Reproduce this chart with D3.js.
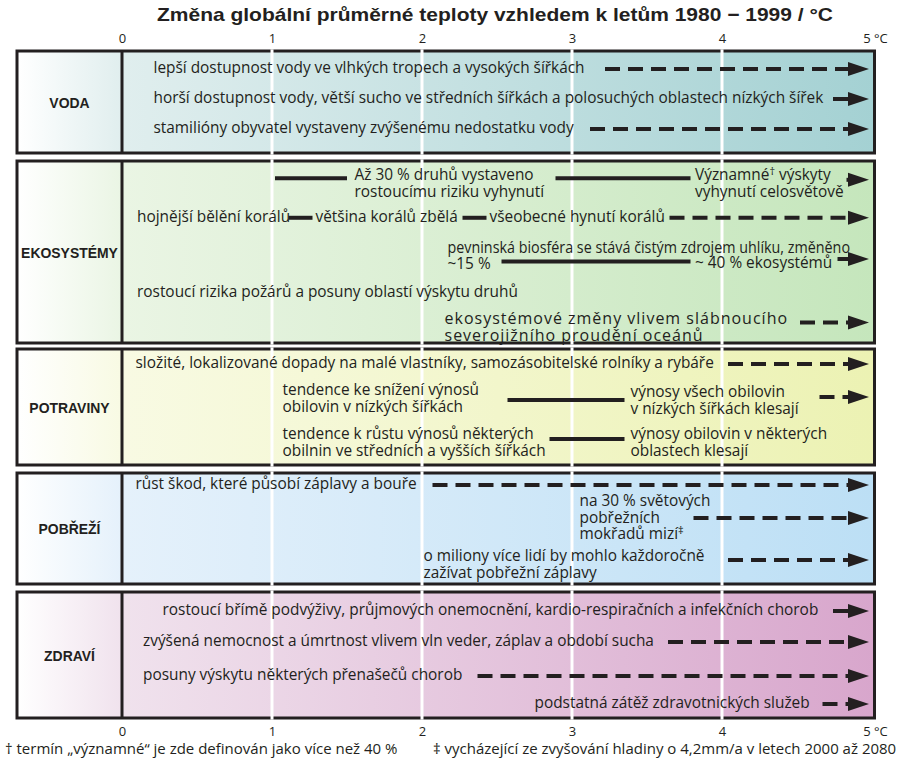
<!DOCTYPE html>
<html><head><meta charset="utf-8">
<script src="https://cdn.jsdelivr.net/npm/d3@7"></script>
<style>body{margin:0;background:#fff}svg{display:block}</style>
</head><body>
<svg id="c" width="898" height="760"></svg>
<script>
// ================= DATA =================
const title = "Změna globální průměrné teploty vzhledem k letům 1980 − 1999 / °C";
const tempTicks = [0, 1, 2, 3, 4, 5];
const tickLabels = ["0", "1", "2", "3", "4", "5 °C"];
const gridTemps = [1, 2, 3, 4];
const sectors = ["VODA", "EKOSYSTÉMY", "POTRAVINY", "POBŘEŽÍ", "ZDRAVÍ"];
const footnotes = [
  "† termín „významné“ je zde definován jako více než 40 %",
  "‡ vycházející ze zvyšování hladiny o 4,2mm/a v letech 2000 až 2080"
];
// impact statements: sector, temperature (°C) where the statement starts, row, text
const impactLabels = [
  {s:0, t:0.21, row:0,    text:"lepší dostupnost vody ve vlhkých tropech a vysokých šířkách"},
  {s:0, t:0.21, row:1,    text:"horší dostupnost vody, větší sucho ve středních šířkách a polosuchých oblastech nízkých šířek"},
  {s:0, t:0.21, row:2,    text:"stamilióny obyvatel vystaveny zvýšenému nedostatku vody"},
  {s:1, t:1.55, row:0,    text:"Až 30 % druhů vystaveno\nrostoucímu riziku vyhynutí"},
  {s:1, t:3.82, row:0,    text:"Významné^† výskyty\nvyhynutí celosvětově"},
  {s:1, t:0.10, row:2.55, text:"hojnější bělění korálů"},
  {s:1, t:1.29, row:2.55, text:"většina korálů zbělá"},
  {s:1, t:2.45, row:2.55, text:"všeobecné hynutí korálů"},
  {s:1, t:2.17, row:4.4,  text:"pevninská biosféra se stává čistým zdrojem uhlíku, změněno\n~15 %"},
  {s:1, t:3.82, row:5.35, text:"~ 40 % ekosystémů"},
  {s:1, t:0.10, row:7.1,  text:"rostoucí rizika požárů a posuny oblastí výskytu druhů"},
  {s:1, t:2.15, row:8.7,  text:"ekosystémové změny vlivem slábnoucího\nseverojižního  proudění oceánů"},
  {s:2, t:0.09, row:0,    text:"složité, lokalizované dopady na malé vlastníky, samozásobitelské rolníky a rybáře"},
  {s:2, t:1.07, row:1.64, text:"tendence ke snížení výnosů\nobilovin v nízkých šířkách"},
  {s:2, t:3.39, row:1.76, text:"výnosy všech obilovin\nv nízkých šířkách klesají"},
  {s:2, t:1.07, row:4.3,  text:"tendence k růstu výnosů některých\nobilnin ve středních a vyšších šířkách"},
  {s:2, t:3.39, row:4.3,  text:"výnosy obilovin v některých\noblastech klesají"},
  {s:3, t:0.09, row:0,    text:"růst škod, které působí záplavy a bouře"},
  {s:3, t:3.05, row:1.03, text:"na 30 % světových\npobřežních\nmokřadů mizí^‡"},
  {s:3, t:2.01, row:4.36, text:"o miliony více lidí by mohlo každoročně\nzažívat pobřežní záplavy"},
  {s:4, t:0.27, row:0,    text:"rostoucí břímě podvýživy, průjmových onemocnění, kardio-respiračních a infekčních chorob"},
  {s:4, t:0.14, row:1,    text:"zvýšená nemocnost a úmrtnost vlivem vln veder, záplav a období sucha"},
  {s:4, t:0.14, row:2.1,  text:"posuny výskytu některých přenašečů chorob"},
  {s:4, t:2.75, row:3,    text:"podstatná zátěž zdravotnických služeb"}
];
// trend lines: sector, row, from °C, to °C, kind, arrow
const trendLines = [
  {s:0, row:0,    from:3.22, to:5,    kind:"dashed", arrow:true},
  {s:0, row:1,    from:4.74, to:5,    kind:"dashed", arrow:true},
  {s:0, row:2,    from:3.12, to:5,    kind:"dashed", arrow:true},
  {s:1, row:0.16, from:1.02, to:1.50, kind:"solid",  arrow:false},
  {s:1, row:0.16, from:2.89, to:3.79, kind:"solid",  arrow:false},
  {s:1, row:0.25, from:4.83, to:5,    kind:"solid",  arrow:true},
  {s:1, row:2.55, from:1.11, to:1.27, kind:"solid",  arrow:false},
  {s:1, row:2.55, from:2.27, to:2.43, kind:"solid",  arrow:false},
  {s:1, row:2.55, from:3.65, to:5,    kind:"dashed", arrow:true},
  {s:1, row:5.2,  from:2.53, to:3.79, kind:"solid",  arrow:false},
  {s:1, row:5.05, from:4.77, to:5,    kind:"solid",  arrow:true},
  {s:1, row:8.9,  from:4.52, to:5,    kind:"dashed", arrow:true},
  {s:2, row:0,    from:4.04, to:5,    kind:"dashed", arrow:true},
  {s:2, row:2.18, from:2.57, to:3.35, kind:"solid",  arrow:false},
  {s:2, row:2.0,  from:4.65, to:5,    kind:"dashed", arrow:true},
  {s:2, row:4.55, from:2.85, to:3.35, kind:"solid",  arrow:false},
  {s:3, row:0,    from:2.07, to:5,    kind:"dashed", arrow:true},
  {s:3, row:2.0,  from:3.81, to:5,    kind:"dashed", arrow:true},
  {s:3, row:4.55, from:4.04, to:5,    kind:"dashed", arrow:true},
  {s:4, row:0,    from:4.74, to:5,    kind:"dashed", arrow:true},
  {s:4, row:1,    from:3.64, to:5,    kind:"dashed", arrow:true},
  {s:4, row:2.1,  from:2.37, to:5,    kind:"dashed", arrow:true},
  {s:4, row:3,    from:4.67, to:5,    kind:"dashed", arrow:true}
];

// ================= LAYOUT / STYLE =================
const ink = "#231f20";
const FONT = "'Open Sans','Noto Sans','DejaVu Sans',sans-serif";
const FS = 15.4, LINE_H = 16.5;
const x = d3.scaleLinear().domain([0, 5]).range([122, 872]);
const panelTop    = [51, 161, 349, 473, 592];
const panelBottom = [153, 343, 465, 584, 718];
const rowPad  = [18, 14.7, 15, 12, 19];
const rowStep = [30, 16.5, 16.5, 16.5, 31];
const panelLeft = 17, panelRight = x(5) + 2.5;
const TEXT_RIGHT_LIMIT = 850;
const palette = [
  ["#ffffff", "#e0eeee", "#a4d1d3"],
  ["#ffffff", "#eaf5e4", "#c5e6bc"],
  ["#ffffff", "#f8fae3", "#ecf2b3"],
  ["#ffffff", "#e5f1fb", "#bcdff5"],
  ["#ffffff", "#f0e2ed", "#d8a6cc"]
];
const rowY = (s, r) => panelTop[s] + rowPad[s] + r * rowStep[s];

const svg = d3.select("#c");
const defs = svg.append("defs");
const divOff = (x(0) - panelLeft) / (panelRight - panelLeft);
palette.forEach((p, i) => {
  const g = defs.append("linearGradient").attr("id", "g" + i).attr("x1", 0).attr("x2", 1).attr("y1", 0).attr("y2", 0);
  g.append("stop").attr("offset", 0).attr("stop-color", p[0]);
  g.append("stop").attr("offset", divOff).attr("stop-color", p[1]);
  g.append("stop").attr("offset", 1).attr("stop-color", p[2]);
});

// title
svg.append("text").attr("x", 495).attr("y", 21).attr("text-anchor", "middle")
  .attr("font-family", "'Liberation Sans',Arial,sans-serif").attr("font-weight", "bold")
  .attr("font-size", 19).attr("fill", ink).attr("textLength", 676).attr("lengthAdjust", "spacingAndGlyphs")
  .text(title);

// axes
function styleAxis(g) {
  g.select(".domain").remove();
  g.selectAll(".tick line").remove();
  g.selectAll("text").attr("font-family", FONT).attr("font-size", 13).attr("fill", ink);
}
svg.append("g").attr("transform", "translate(0,43)")
  .call(d3.axisTop(x).tickValues(tempTicks).tickFormat((d, i) => tickLabels[i]).tickSize(0).tickPadding(0))
  .call(styleAxis);
svg.append("g").attr("transform", "translate(0,727)")
  .call(d3.axisBottom(x).tickValues(tempTicks).tickFormat((d, i) => tickLabels[i]).tickSize(0).tickPadding(0))
  .call(styleAxis);
svg.selectAll(".tick").filter(d => d === 5).select("text").attr("x", 3);

// panels
const panels = svg.selectAll("g.panel").data(sectors).join("g").attr("class", "panel");
panels.append("rect")
  .attr("x", panelLeft).attr("y", (d, i) => panelTop[i])
  .attr("width", panelRight - panelLeft).attr("height", (d, i) => panelBottom[i] - panelTop[i])
  .attr("fill", (d, i) => `url(#g${i})`).attr("stroke", ink).attr("stroke-width", 3);
panels.append("line")
  .attr("x1", x(0)).attr("x2", x(0))
  .attr("y1", (d, i) => panelTop[i]).attr("y2", (d, i) => panelBottom[i])
  .attr("stroke", ink).attr("stroke-width", 3);
panels.append("text")
  .attr("transform", (d, i) => `translate(${(panelLeft + x(0)) / 2},${(panelTop[i] + panelBottom[i]) / 2 + 5.5}) scale(0.93,1)`)
  .attr("text-anchor", "middle").attr("font-family", "'Liberation Sans',Arial,sans-serif")
  .attr("font-weight", "bold").attr("font-size", 15).attr("fill", ink)
  .text(d => d);

// white grid lines
panels.each(function (d, i) {
  d3.select(this).selectAll("line.grid").data(gridTemps).join("line").attr("class", "grid")
    .attr("x1", t => x(t)).attr("x2", t => x(t))
    .attr("y1", panelTop[i] - 1.6).attr("y2", panelBottom[i] + 1.6)
    .attr("stroke", "#fff").attr("stroke-width", 3);
});

// trend lines
const HEAD = 21, TIP = x(5) - 3;
const tl = svg.append("g");
trendLines.forEach(d => {
  const y = rowY(d.s, d.row);
  const x1 = x(d.from), x2 = d.arrow ? TIP - HEAD + 2 : x(d.to);
  tl.append("line").attr("x1", x1).attr("x2", x2).attr("y1", y).attr("y2", y)
    .attr("stroke", ink).attr("stroke-width", 4)
    .attr("stroke-dasharray", d.kind === "dashed" ? "15,8" : null);
  if (d.arrow) {
    tl.append("path").attr("d", `M${TIP - HEAD},${y - 7}L${TIP},${y}L${TIP - HEAD},${y + 7}Z`).attr("fill", ink);
  }
});

// impact labels
const lg = svg.append("g").attr("font-family", FONT).attr("fill", ink);
impactLabels.forEach(d => {
  const emph = d.s === 1 && d.row > 8;
  const x0 = x(d.t);
  const txt = lg.append("text").attr("x", x0).attr("y", rowY(d.s, d.row) + 4.3)
    .attr("font-size", emph ? 16 : FS).attr("letter-spacing", emph ? 1.0 : null);
  d.text.split("\n").forEach((line, li) => {
    const parts = line.split("^");
    parts.forEach((p, pi) => {
      if (pi === 0) {
        const ts = txt.append("tspan").attr("x", x0)
          .attr("dy", li > 0 ? (emph ? 17 : LINE_H) : 0).text(p);
        if (parts.length === 1) {
          const w = ts.node().getComputedTextLength();
          if (x0 + w > TEXT_RIGHT_LIMIT) {
            ts.attr("textLength", TEXT_RIGHT_LIMIT - x0).attr("lengthAdjust", "spacingAndGlyphs");
          }
        }
      } else {
        txt.append("tspan").attr("dy", -5.5).attr("font-size", 11).text(p[0]);
        txt.append("tspan").attr("dy", 5.5).text(p.slice(1));
      }
    });
  });
});

// footnotes
svg.append("text").attr("x", 5).attr("y", 754).attr("font-family", FONT).attr("font-size", 15).attr("fill", ink).text(footnotes[0]);
svg.append("text").attr("x", 433).attr("y", 754).attr("font-family", FONT).attr("font-size", 15).attr("fill", ink).text(footnotes[1]);
</script>
</body></html>
